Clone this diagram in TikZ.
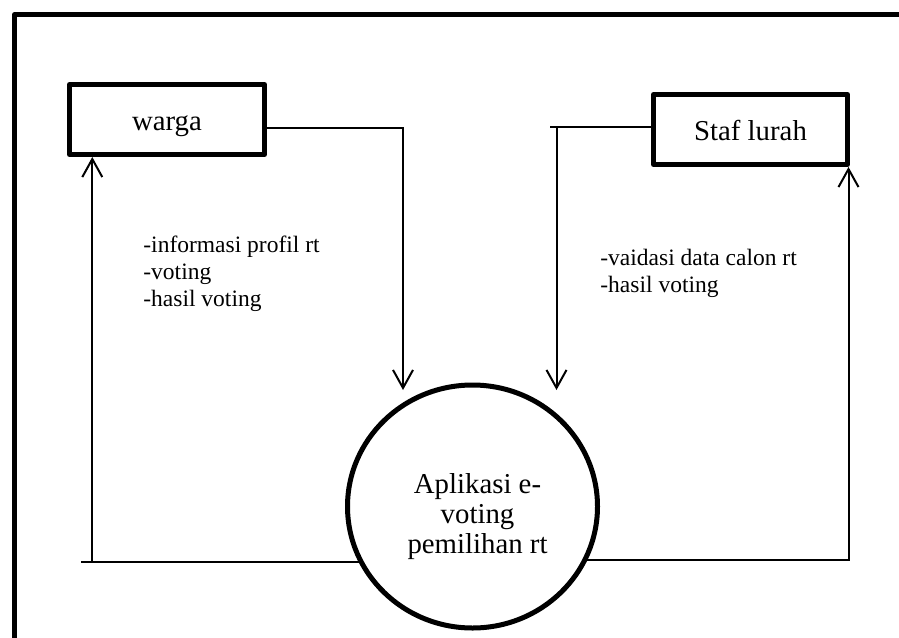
\documentclass[tikz,border=0pt]{standalone}
\usepackage{fontspec}
\setmainfont{Liberation Serif}
\usetikzlibrary{arrows.meta,shapes.geometric}
\tikzset{
  frameline/.style={line width=2.25pt, line join=round},
  entity/.style={draw, line width=2.5pt, line join=round, inner sep=0pt,
    minimum height=35pt, text height=10.5pt, text depth=0pt,
    font=\fontsize{14.4}{15}\selectfont},
  process/.style={draw, ellipse, line width=2.5pt, fill=white, inner sep=0pt,
    minimum width=125pt, minimum height=121.5pt},
  flow/.style={line width=1pt},
  flowarrow/.style={flow, -{Straight Barb[length=9pt,width=10pt]}},
  flowlabel/.style={inner sep=0pt, anchor=base west,
    font=\fontsize{11.75}{13.5}\selectfont},
  proclabel/.style={inner sep=0pt, anchor=base,
    font=\fontsize{14.4}{15}\selectfont},
}
\begin{document}
\begin{tikzpicture}[x=0.5pt, y=-0.5pt]
  % canvas (1 unit = 1 px, y grows downwards)
  \useasboundingbox (0,0) rectangle (899,637);
  \fill[white] (0,0) rectangle (899,637);

  % outer frame, running past the right and bottom edges
  \begin{scope}
    \clip (0,0) rectangle (899,637);
    \draw[frameline] (14.5,14.5) rectangle (930,670);
  \end{scope}

  % external entities and the process
  \node[entity, minimum width=97.5pt] (warga) at (167,119.5) {warga};
  \node[entity, minimum width=97pt]   (staf)  at (750.5,129.5) {Staf lurah};
  \node[process] (proc) at (472.5,506.5) {};
  \node[proclabel] (proctext) at (477.5,493)
    {\begin{tabular}[t]{@{}c@{}}Aplikasi e-\\voting\\pemilihan rt\end{tabular}};

  % routing points
  \coordinate (wTurn) at (403,127.7);
  \coordinate (wIn)   at (403,390);
  \coordinate (wStub) at (81,562.5);
  \coordinate (wBack) at (92.3,562.5);
  \coordinate (sTurn) at (556.5,126.7);
  \coordinate (sStub) at (550,126.7);
  \coordinate (sIn)   at (556.5,390);
  \coordinate (sBack) at (848.5,561);

  % warga -> process
  \draw[flowarrow] (warga.east |- wTurn) -- (wTurn) -- (wIn);
  % Staf lurah -> process
  \draw[flow] (staf.west |- sTurn) -- (sStub);
  \draw[flowarrow] (sTurn) -- (sIn);
  % process -> warga
  \draw[flow] (proc.206.2) -- (proc.206.2 -| wStub);
  \draw[flowarrow] (proc.206.2 -| wBack) -- (warga.south -| wBack);
  % process -> Staf lurah
  \draw[flowarrow] (proc.-25.5) -- (proc.-25.5 -| sBack) -- (staf.south -| sBack);

  % data flow labels
  \node[flowlabel] (lblwarga) at (143,252)
    {\begin{tabular}[t]{@{}l@{}}-informasi profil rt\\-voting\\-hasil voting\end{tabular}};
  \node[flowlabel] (lblstaf) at (600,265)
    {\begin{tabular}[t]{@{}l@{}}-vaidasi data calon rt\\-hasil voting\end{tabular}};
\end{tikzpicture}
\end{document}
